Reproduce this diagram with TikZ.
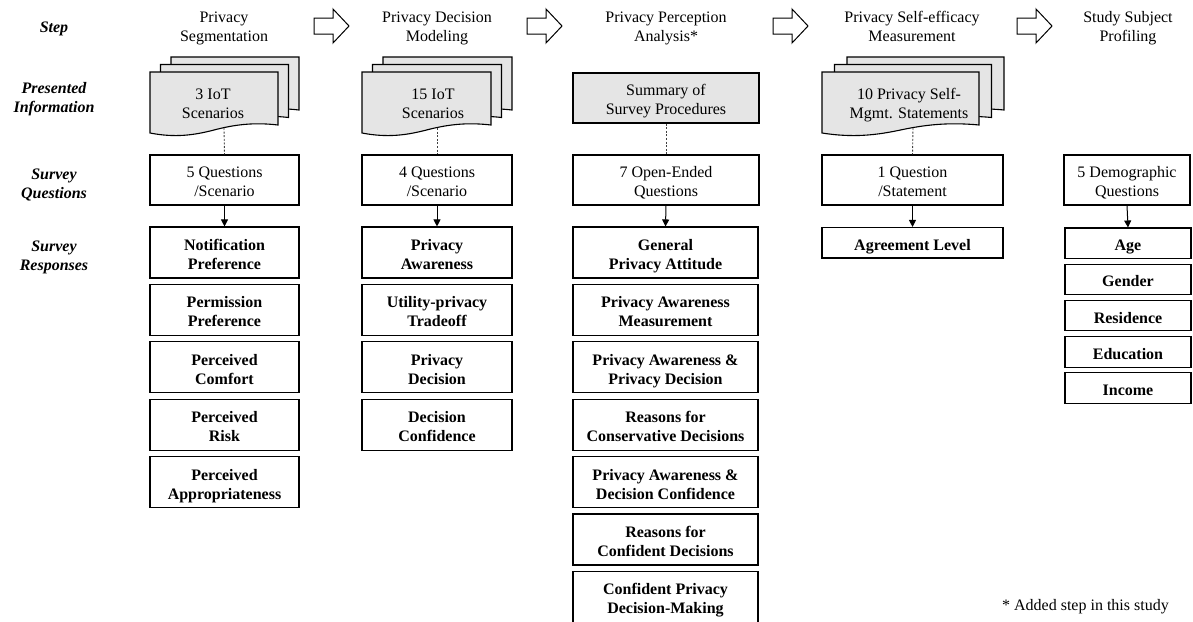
\documentclass[tikz,border=0pt]{standalone}
\usepackage{fontspec}
\setmainfont{Liberation Serif}
\usetikzlibrary{arrows.meta}
\definecolor{sheet}{gray}{0.9}

% one sheet of a stacked document symbol: x0, top, width, height of straight side
\newcommand\docsheet[4]{%
  \filldraw[sheetline] (#1,#2) -- ({#1+#3},#2) -- ({#1+#3},{#2+#4-5})
    .. controls ({#1+0.8*#3},{#2+#4-8}) and ({#1+0.65*#3},{#2+#4-5}) .. ({#1+0.5*#3},{#2+#4})
    .. controls ({#1+0.35*#3},{#2+#4+5}) and ({#1+0.2*#3},{#2+#4+8}) .. (#1,{#2+#4+3}) -- cycle;}
% stack of three sheets: front x0, width, offset between sheets
\newcommand\docstack[3]{%
  \docsheet{#1+2*#3}{57}{#2}{58}%
  \docsheet{#1+#3}{64.5}{#2}{58}%
  \docsheet{#1}{72}{#2}{58}}
% hollow block arrow between step titles
\newcommand\steparrow[1]{%
  \draw[line width=1pt, line join=miter] (#1,18) -- ({#1+19},18) -- ({#1+19},9) -- ({#1+35},26)
    -- ({#1+19},43) -- ({#1+19},34) -- (#1,34) -- cycle;}
% two-line label with struts: extra room above the first line, full descent below the last
\newcommand\topstrut{\rule{0pt}{18.3pt}}
\newcommand\botstrut{\rule[-3.5pt]{0pt}{3.5pt}}
\newcommand\twolines[2]{\topstrut#1\\#2\botstrut}

\begin{document}
\begin{tikzpicture}[x=1pt, y=-1pt,
  font=\fontsize{16}{19}\selectfont,
  sheetline/.style={fill=sheet, draw=black, line width=1.1pt},
  head/.style={align=center},
  rowlab/.style={align=center, font=\fontsize{16}{19}\selectfont\bfseries\itshape},
  qbox/.style={draw, line width=1.1pt, inner sep=0pt, align=center, minimum height=50pt},
  rbox/.style={qbox, font=\fontsize{16}{19}\selectfont\bfseries, minimum height=51pt},
  sbox/.style={rbox, minimum height=30.5pt},
  gbox/.style={qbox, fill=sheet},
  doctext/.style={align=center},
  dots/.style={line width=0.9pt, dash pattern=on 2pt off 1.6pt, draw=black!75},
  flow/.style={line width=1pt, -{Triangle[width=7pt,length=7pt]}}]

\useasboundingbox (0,0) rectangle (1193,621);

% row labels
\node[rowlab] (lstep) at (54,25) {\topstrut Step\botstrut};
\node[rowlab] (linfo) at (54,96) {\twolines{Presented}{Information}};
\node[rowlab] (lques) at (54,181.5) {\twolines{Survey}{Questions}};
\node[rowlab] (lresp) at (54,253.5) {\twolines{Survey}{Responses}};

% step titles
\node[head] (h1) at (224,24.5) {\twolines{Privacy}{Segmentation}};
\node[head] (h2) at (437,24.5) {\twolines{Privacy Decision}{Modeling}};
\node[head] (h3) at (666,24.5) {\twolines{Privacy Perception}{Analysis*}};
\node[head] (h4) at (912,24.5) {\twolines{Privacy Self-efficacy}{Measurement}};
\node[head] (h5) at (1128,24.5) {\twolines{Study Subject}{Profiling}};

\steparrow{314}
\steparrow{527}
\steparrow{773}
\steparrow{1017}

% presented information
\docstack{150}{128}{10.5}
\docstack{362}{129}{10.5}
\docstack{822}{157}{12.5}
\node[doctext] (p1) at (213,102) {\twolines{3 IoT}{Scenarios}};
\node[doctext] (p2) at (433,102) {\twolines{15 IoT}{Scenarios}};
\node[gbox, minimum width=186pt] (p3) at (666,98) {\twolines{Summary of}{Survey Procedures}};
\node[doctext] (p4) at (909,102) {\twolines{10 Privacy Self-}{Mgmt. Statements}};
\coordinate (b1) at (224,128);
\coordinate (b2) at (437,128);
\coordinate (b4) at (913,128);

% survey questions
\node[qbox, minimum width=149pt] (q1) at (224.5,180) {\twolines{5 Questions}{/Scenario}};
\node[qbox, minimum width=150pt] (q2) at (437,180) {\twolines{4 Questions}{/Scenario}};
\node[qbox, minimum width=186pt] (q3) at (666,180) {\twolines{7 Open-Ended}{Questions}};
\node[qbox, minimum width=181pt] (q4) at (912.5,180) {\twolines{1 Question}{/Statement}};
\node[qbox, minimum width=126pt] (q5) at (1127,180) {\twolines{5 Demographic}{Questions}};

% survey responses
\foreach \a/\b [count=\i] in {Notification/Preference,Permission/Preference,
    Perceived/Comfort,Perceived/Risk,Perceived/Appropriateness}
  \node[rbox, minimum width=149pt] (r1-\i) at (224.5,{252.5+57.4*(\i-1)}) {\twolines{\a}{\b}};
\foreach \a/\b [count=\i] in {Privacy/Awareness,Utility-privacy/Tradeoff,
    Privacy/Decision,Decision/Confidence}
  \node[rbox, minimum width=150pt] (r2-\i) at (437,{252.5+57.4*(\i-1)}) {\twolines{\a}{\b}};
\foreach \a/\b [count=\i] in {General/Privacy Attitude,Privacy Awareness/Measurement,
    Privacy Awareness \&/Privacy Decision,Reasons for/Conservative Decisions,
    Privacy Awareness \&/Decision Confidence,Reasons for/Confident Decisions,
    Confident Privacy/Decision-Making}
  \node[rbox, minimum width=185pt] (r3-\i) at (665.5,{252.5+57.4*(\i-1)}) {\twolines{\a}{\b}};
\node[sbox, minimum width=181pt] (r4-1) at (912.5,242.75) {\topstrut Agreement Level\botstrut};
\foreach \t [count=\i] in {Age,Gender,Residence,Education,Income}
  \node[sbox, minimum width=126pt] (r5-\i) at (1128,{243.25+36.2*(\i-1)}) {\topstrut\t\botstrut};

% connectors
\draw[dots] (b1) -- (q1.north);
\draw[dots] (b2) -- (q2.north);
\draw[dots] (p3.south) -- (q3.north);
\draw[dots] (b4) -- (q4.north);
\draw[flow] (q1.south) -- (r1-1.north);
\draw[flow] (q2.south) -- (r2-1.north);
\draw[flow] (q3.south) -- (r3-1.north);
\draw[flow] (q4.south) -- (r4-1.north);
\draw[flow] (q5.south) -- (r5-1.north);

% footnote
\node[anchor=east, inner sep=0pt] (note) at (1169,603) {\topstrut* Added step in this study\botstrut};
\end{tikzpicture}
\end{document}
